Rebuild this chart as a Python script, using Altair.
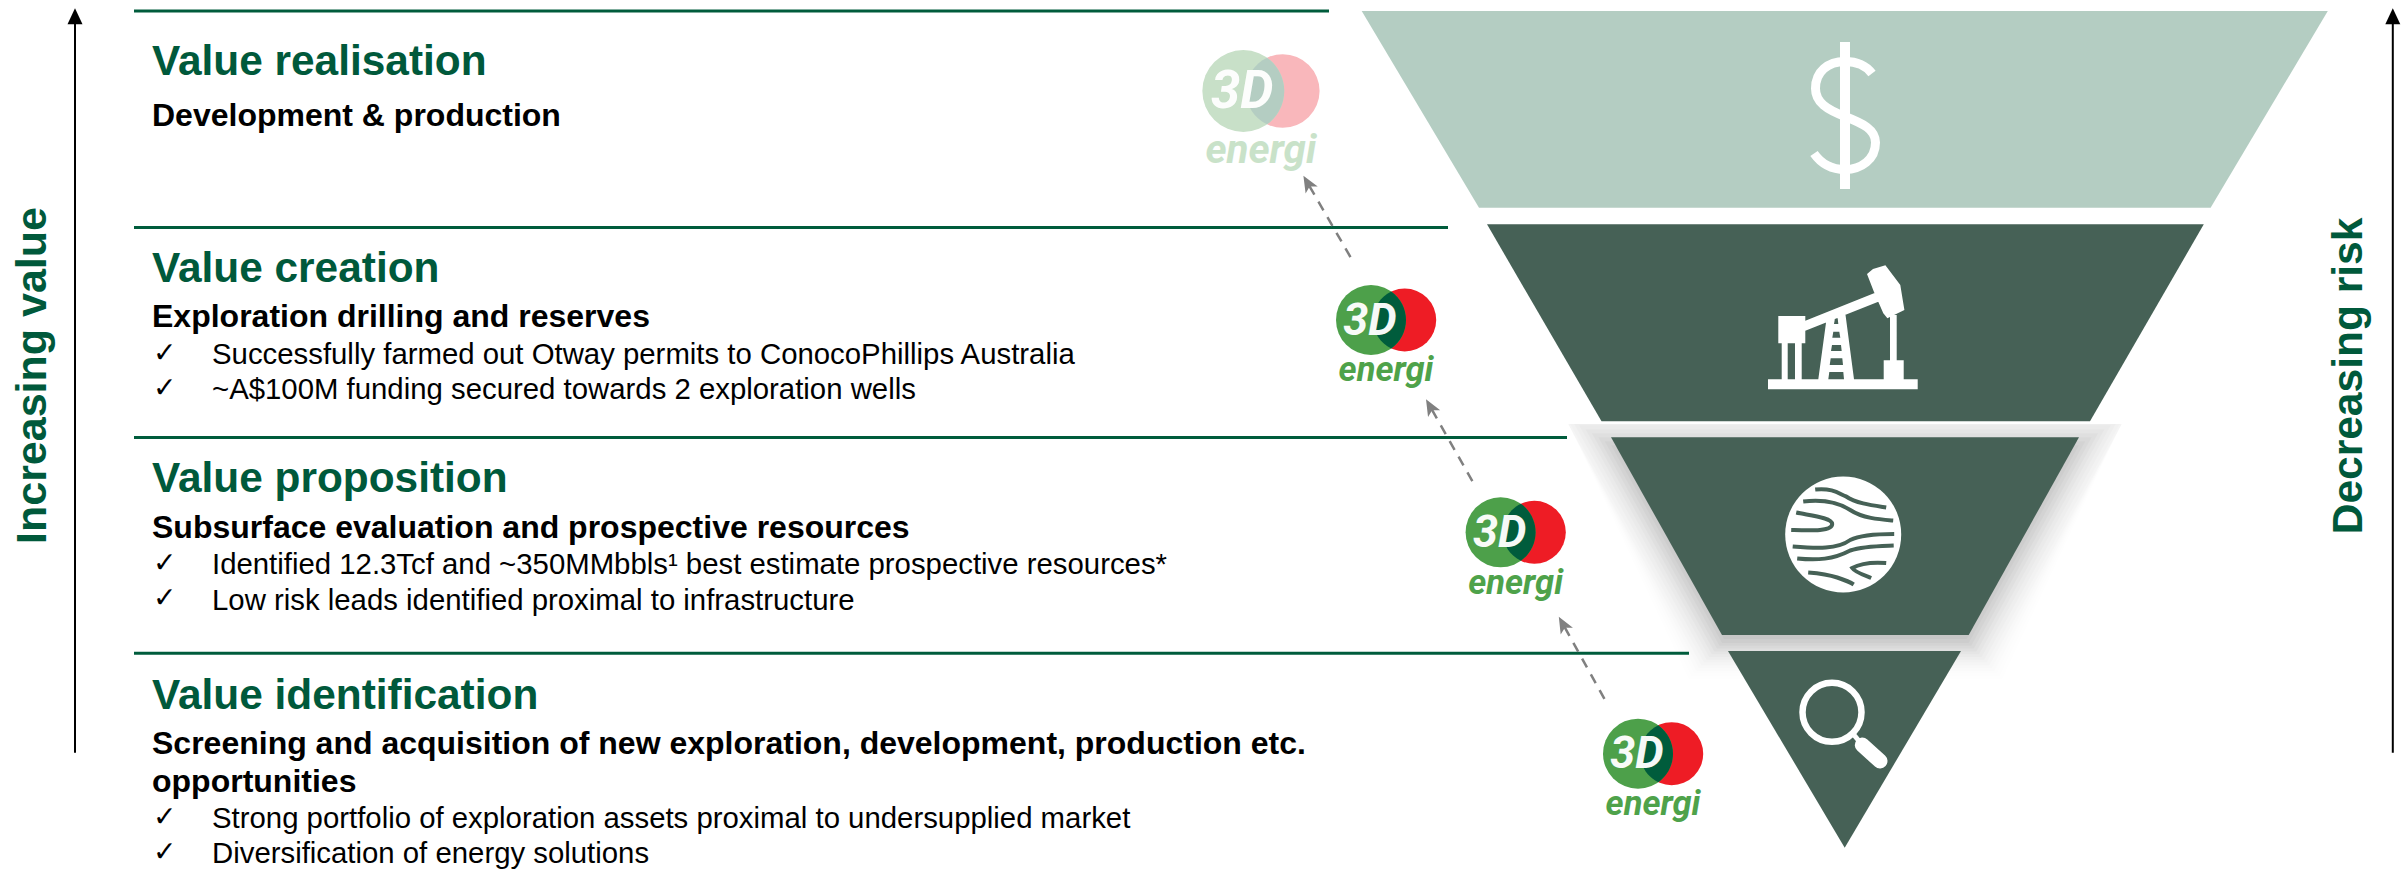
import math
import altair as alt
import pandas as pd

W, H = 2402, 869
GREEN_TEXT = "#00593b"
DARK_BAND = "#466156"
LIGHT_BAND = "#b4cdc2"
FONT = "Liberation Sans"

# Funnel bands, widest to narrowest
band_names = ["realisation", "creation", "proposition", "identification"]
band_top = [11, 224.3, 437.3, 651]
band_bottom = [207.7, 421.3, 635, 847.7]
band_top_left = [1361.7, 1487, 1611, 1728]
band_top_right = [2327.8, 2203.8, 2079, 1961]
band_bottom_left = [1479, 1601.5, 1722, 1844.7]
band_bottom_right = [2210.6, 2090, 1968.7, 1844.7]
band_fill = [LIGHT_BAND, DARK_BAND, DARK_BAND, DARK_BAND]

# Section rules
rule_y = [11, 227.5, 437.5, 653.3]
rule_x_end = [1329, 1448, 1567, 1689]
RULE_X_START = 134

# Section text
title_text = ["Value realisation", "Value creation", "Value proposition", "Value identification"]
title_y = [75, 281.7, 492.3, 709]
sub_text = [
    "Development & production",
    "Exploration drilling and reserves",
    "Subsurface evaluation and prospective resources",
    "Screening and acquisition of new exploration, development, production etc.",
    "opportunities",
]
sub_y = [126, 326.7, 538.3, 754, 791.7]
item_text = [
    "Successfully farmed out Otway permits to ConocoPhillips Australia",
    "~A$100M funding secured towards 2 exploration wells",
    "Identified 12.3Tcf and ~350MMbbls¹ best estimate prospective resources*",
    "Low risk leads identified proximal to infrastructure",
    "Strong portfolio of exploration assets proximal to undersupplied market",
    "Diversification of energy solutions",
]
item_y = [364.3, 399.3, 574.3, 609.8, 828.3, 863.3]

# Company logos along the funnel
logo_x = [1243.3, 1371, 1500.6, 1638]
logo_y = [91, 320, 532.3, 753.7]
logo_scale = [1.17, 1, 1, 1]
logo_green = ["#c8e0c8", "#4da04a", "#4da04a", "#4da04a"]
logo_red = ["#f9b7bb", "#ee1c25", "#ee1c25", "#ee1c25"]
logo_lens = ["#b4cdc2", "#005c3c", "#005c3c", "#005c3c"]
logo_word = ["#c9e2c9", "#4ea24a", "#4ea24a", "#4ea24a"]

# Dashed progress arrows between logos
arrow_x0 = [1606, 1474, 1353.5]
arrow_y0 = [701.7, 484, 262.3]
arrow_x1 = [1558.8, 1426, 1303.4]
arrow_y1 = [616.7, 399.3, 175.7]

# Soft shadow under the third band: stacked outlines, thinnest weights outermost
shadow_spread = list(range(-44, 68, 4))
SHADOW_PEAK = 0.36
SHADOW_SIGMA = 24
SHADOW_DROP = 8
SHADOW_CORNER = 30

# Icon outlines, drawn around an anchor point at one pixel per unit
DOLLAR_BAR = "M-5 -73.5 L5 -73.5 L5 73.5 L-5 73.5 Z"
DOLLAR_S = "M27 -42 C21 -50 11 -54 0 -54 C-17 -54 -29.5 -44 -29.5 -27 C-29.5 -13 -18 -6 0 1 C18 8 30.5 14 30.5 27 C30.5 44 16 54 0 54 C-13 54 -24 48 -31 38"


def poly(points):
    return "M" + " L".join(f"{x} {y}" for x, y in points) + " Z"


PUMP = " ".join(poly(p) for p in [
    [(-75, 49.3), (74.7, 49.3), (74.7, 59.3), (-75, 59.3)],
    [(-64.7, -14), (-37.7, -14), (-37.7, 13.3), (-64.7, 13.3)],
    [(-61.3, 13.3), (-55.3, 13.3), (-55.3, 49.3), (-61.3, 49.3)],
    [(-48, 13.3), (-41.3, 13.3), (-41.3, 49.3), (-48, 49.3)],
    [(-37.7, -9.3), (34.7, -38.3), (35.3, -28.3), (-37.7, 0.7)],
    [(24, -56), (30, -61), (42.4, -64.7), (57.3, -45), (61.4, -20), (44.4, -11.7), (40.3, -16.7), (30.9, -38.3)],
    [(47, -15), (53.7, -15), (53.7, 30.3), (47, 30.3)],
    [(40.7, 30.3), (60.7, 30.3), (60.7, 49.3), (40.7, 49.3)],
    [(-15.7, -16.7), (2.3, -16.7), (11, 49.3), (-24.7, 49.3)],
    # Ladder gaps, wound the other way so they stay open
    [(-8, -11.7), (-9, -6), (-4.7, -6), (-5.3, -11.7)],
    [(-9.7, 1.7), (-10.7, 7.7), (-2.7, 7.7), (-3.7, 1.7)],
    [(-11, 15), (-12, 21), (-1.3, 21), (-2, 15)],
    [(-12.3, 28.3), (-13.3, 35), (0, 35), (-0.7, 28.3)],
    [(-13.7, 42), (-14.7, 49.3), (1, 49.3), (0.3, 42)],
])

STRATA = [
    "M-28 -45 C-10 -47 -3 -40 3 -38 C13 -31 30 -29 43 -27",
    "M-40 -33 C-23 -35 -6 -33 7 -24.5 C20 -16 37 -15 50 -14",
    "M-47 -22 C-33 -19 -11 -17 -11 -10.5 C-11 -3 -33 -4 -52 -4.5",
    "M-50.5 12 C-26 14 -6 15 7 5.5 C17 0.5 37 -0.5 51 -0.5",
    "M-46 24 C-26 26 -10 25 7 16 C20 11.5 37 11.5 50.5 11",
    "M43 28.5 C30 27.5 17 29 9 33.5 C12 38 22 41 28 43.5",
    "M-35 38 C-22 39 -12 41 -6 43 C0 45 6 47 10.5 50",
]

LENS = "M20.3 -28.5 A35 35 0 0 1 20.3 28.5 A31.5 31.5 0 0 1 20.3 -28.5 Z"
ARROW_HEAD = "M0 0 L7 16.5 L0 12.5 L-7 16.5 Z"
UP_HEAD = "M0 0 L7.5 16 L-7.5 16 Z"

x_scale = alt.Scale(domain=[0, W], nice=False)
y_scale = alt.Scale(domain=[H, 0], nice=False)
x_enc = alt.X("x:Q", scale=x_scale, axis=None)
y_enc = alt.Y("y:Q", scale=y_scale, axis=None)


def at(x, y):
    return alt.Data(values=[{"x": x, "y": y}])


def glyph(path, x, y, color, filled=True, stroke_width=None, size=4):
    kw = {"strokeWidth": stroke_width} if stroke_width else {}
    return alt.Chart(at(x, y)).mark_point(
        shape=path, size=size, filled=filled, color=color, opacity=1, **kw
    ).encode(x=x_enc, y=y_enc)


def text_layer(frame, size, weight="normal", color="#000000", font=FONT, **kw):
    return alt.Chart(frame).mark_text(
        font=font, fontSize=size, fontWeight=weight, color=color,
        align="left", baseline="alphabetic", **kw
    ).encode(x=x_enc, y=y_enc, text="text:N")


layers = []

# Shadow under the third band; the outer outlines pull in at the upper corners
sl = (band_bottom_left[2] - band_top_left[2]) / (band_bottom[2] - band_top[2])
sr = (band_bottom_right[2] - band_top_right[2]) / (band_bottom[2] - band_top[2])
weights = [math.exp(-(s / SHADOW_SIGMA) ** 2 / 2) for s in shadow_spread]
total = sum(weights)
shadow_rows = []
for s, w in zip(shadow_spread, weights):
    top = max(424, band_top[2] + SHADOW_DROP - s)
    bottom = band_bottom[2] + SHADOW_DROP + (s if s < 0 else s * 0.7)
    for yy, reach in ((top, min(s, SHADOW_CORNER)), (bottom, s)):
        base_y = yy - SHADOW_DROP
        shadow_rows.append({
            "spread": s, "y": yy, "alpha": SHADOW_PEAK * w / total,
            "x": band_top_left[2] + (base_y - band_top[2]) * sl - reach * 1.04,
            "x2": band_top_right[2] + (base_y - band_top[2]) * sr + reach * 1.04,
        })
layers.append(
    alt.Chart(pd.DataFrame(shadow_rows)).mark_area(orient="horizontal", color="#000000").encode(
        y=y_enc, x=x_enc, x2="x2:Q", detail="spread:N",
        opacity=alt.Opacity("alpha:Q", scale=None, legend=None),
    )
)

# Funnel bands
band_rows = []
for i, name in enumerate(band_names):
    band_rows.append({"band": name, "y": band_top[i], "x": band_top_left[i], "x2": band_top_right[i], "fill": band_fill[i]})
    band_rows.append({"band": name, "y": band_bottom[i], "x": band_bottom_left[i], "x2": band_bottom_right[i], "fill": band_fill[i]})
layers.append(
    alt.Chart(pd.DataFrame(band_rows)).mark_area(orient="horizontal", opacity=1).encode(
        y=y_enc, x=x_enc, x2="x2:Q", detail="band:N", color=alt.Color("fill:N", scale=None)
    )
)

# Section rules
rules = pd.DataFrame({"x": [RULE_X_START] * 4, "x2": rule_x_end, "y": rule_y})
layers.append(alt.Chart(rules).mark_rule(color="#005c3c", strokeWidth=3).encode(x=x_enc, x2="x2:Q", y=y_enc))

# Side arrows
for ax in (75, 2392.8):
    side = pd.DataFrame({"x": [ax, ax], "y": [20, 752.7]})
    layers.append(alt.Chart(side).mark_line(color="#000000", strokeWidth=2).encode(x=x_enc, y=y_enc))
    layers.append(glyph(UP_HEAD, ax, 8.3, "#000000"))

# Section headings, subheadings and ticked items
layers.append(text_layer(pd.DataFrame({"text": title_text, "x": 152, "y": title_y}), 42.4, "bold", GREEN_TEXT))
layers.append(text_layer(pd.DataFrame({"text": sub_text, "x": 152, "y": sub_y}), 32, "bold"))
layers.append(text_layer(pd.DataFrame({"text": item_text, "x": 212, "y": item_y}), 29.35))
layers.append(text_layer(pd.DataFrame({"text": ["✓"] * 6, "x": 153, "y": [v - 2.5 for v in item_y]}), 28, font="DejaVu Sans"))

# Rotated side labels
layers.append(
    alt.Chart(at(45.5, 375.5)).mark_text(
        text="Increasing value", font=FONT, fontSize=43, fontWeight="bold", color=GREEN_TEXT,
        angle=270, align="center", baseline="alphabetic"
    ).encode(x=x_enc, y=y_enc)
)
layers.append(
    alt.Chart(at(2362, 376)).mark_text(
        text="Decreasing risk", font=FONT, fontSize=42.5, fontWeight="bold", color=GREEN_TEXT,
        angle=270, align="center", baseline="alphabetic"
    ).encode(x=x_enc, y=y_enc)
)

# Band icons
layers.append(glyph(DOLLAR_BAR, 1845, 115.5, "#ffffff"))
layers.append(glyph(DOLLAR_S, 1845, 115.5, "#ffffff", filled=False, stroke_width=9))
layers.append(glyph(PUMP, 1843, 330, "#ffffff"))
layers.append(alt.Chart(at(1843.2, 534.5)).mark_point(shape="circle", size=116 ** 2, filled=True, color="#ffffff", opacity=1).encode(x=x_enc, y=y_enc))
for stratum in STRATA:
    layers.append(glyph(stratum, 1843.2, 534.5, DARK_BAND, filled=False, stroke_width=4))
layers.append(
    alt.Chart(at(1832, 712.3)).mark_point(shape="circle", size=59 ** 2, filled=False, color="#ffffff", strokeWidth=6.5, opacity=1).encode(x=x_enc, y=y_enc)
)
layers.append(alt.Chart(pd.DataFrame({"x": [1854, 1862.3], "y": [735, 745]})).mark_line(color="#ffffff", strokeWidth=5).encode(x=x_enc, y=y_enc))
layers.append(alt.Chart(pd.DataFrame({"x": [1862.3, 1880], "y": [745, 761]})).mark_line(color="#ffffff", strokeWidth=15, strokeCap="round").encode(x=x_enc, y=y_enc))

# Dashed arrows
for i in range(3):
    dx, dy = arrow_x1[i] - arrow_x0[i], arrow_y1[i] - arrow_y0[i]
    length = math.hypot(dx, dy)
    stop = (length - 12) / length
    shaft = pd.DataFrame({"x": [arrow_x0[i], arrow_x0[i] + dx * stop], "y": [arrow_y0[i], arrow_y0[i] + dy * stop]})
    layers.append(alt.Chart(shaft).mark_line(color="#808080", strokeWidth=2.5, strokeDash=[10, 8]).encode(x=x_enc, y=y_enc))
    turn = math.degrees(math.atan2(dx, -dy)) % 360
    layers.append(
        alt.Chart(at(arrow_x1[i], arrow_y1[i])).mark_point(
            shape=ARROW_HEAD, size=4, angle=turn, filled=True, color="#808080", opacity=1
        ).encode(x=x_enc, y=y_enc)
    )

# Logos: two discs, their overlap, then the lettering
logos = pd.DataFrame({"x": logo_x, "y": logo_y, "k": logo_scale, "green": logo_green, "red": logo_red, "lens": logo_lens, "word": logo_word})
logos["red_x"] = logos.x + 33.7 * logos.k
logos["green_size"] = (70 * logos.k) ** 2
logos["red_size"] = (63 * logos.k) ** 2
logos["lens_size"] = 4 * logos.k ** 2
logos["mark_x"] = logos.x - 1 * logos.k
logos["mark_y"] = logos.y + 14.6 * logos.k
logos["mark_font"] = 45 * logos.k
logos["word_x"] = logos.x + 15 * logos.k
logos["word_y"] = logos.y + 61.3 * logos.k
logos["word_font"] = 34.5 * logos.k
logos["three_d"] = "3D"
logos["energi"] = "energi"

size_raw = lambda f: alt.Size(f, scale=None, legend=None)
color_raw = lambda f: alt.Color(f, scale=None, legend=None)
base = alt.Chart(logos)
layers.append(base.mark_point(shape="circle", filled=True, opacity=1).encode(x=alt.X("red_x:Q", scale=x_scale, axis=None), y=y_enc, size=size_raw("red_size:Q"), color=color_raw("red:N")))
layers.append(base.mark_point(shape="circle", filled=True, opacity=1).encode(x=x_enc, y=y_enc, size=size_raw("green_size:Q"), color=color_raw("green:N")))
layers.append(base.mark_point(shape=LENS, filled=True, opacity=1).encode(x=x_enc, y=y_enc, size=size_raw("lens_size:Q"), color=color_raw("lens:N")))
layers.append(
    base.mark_text(font="Roboto", fontWeight="bold", fontStyle="italic", align="center", baseline="alphabetic", color="#ffffff", opacity=0.96).encode(
        x=alt.X("mark_x:Q", scale=x_scale, axis=None), y=alt.Y("mark_y:Q", scale=y_scale, axis=None),
        size=size_raw("mark_font:Q"), text="three_d:N")
)
layers.append(
    base.mark_text(font="Roboto", fontWeight="bold", fontStyle="italic", align="center", baseline="alphabetic").encode(
        x=alt.X("word_x:Q", scale=x_scale, axis=None), y=alt.Y("word_y:Q", scale=y_scale, axis=None),
        size=size_raw("word_font:Q"), color=color_raw("word:N"), text="energi:N")
)

chart = alt.layer(*layers).properties(
    width=W, height=H, padding=0, background="#ffffff",
    autosize=alt.AutoSizeParams(type="none"),
).configure_view(stroke=None)

chart.save("out.html", embed_options={"renderer": "svg", "actions": False})
